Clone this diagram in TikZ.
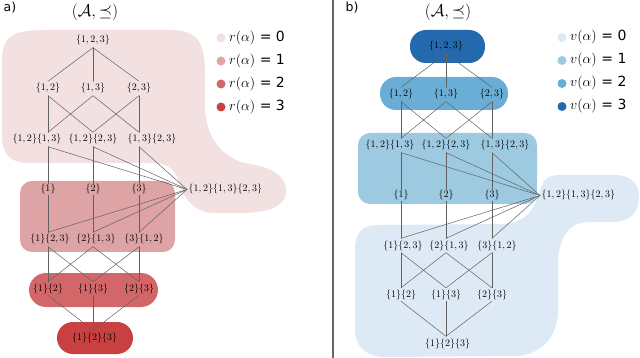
\RequirePackage{fix-cm}
\documentclass[tikz,border=0pt]{standalone}
\usepackage{fontspec}
\setsansfont{DejaVu Sans}
\usetikzlibrary{calc}
\definecolor{rzero}{HTML}{F3E1E1}
\definecolor{rone}{HTML}{DEA4A5}
\definecolor{rtwo}{HTML}{D36668}
\definecolor{rthree}{HTML}{C8403F}
\definecolor{vzero}{HTML}{DDEAF6}
\definecolor{vone}{HTML}{9DCAE1}
\definecolor{vtwo}{HTML}{6AADD5}
\definecolor{vthree}{HTML}{2468AE}
\tikzstyle{every path}=[line cap=round,line join=round]
\tikzstyle{vtx}=[inner sep=0pt,minimum width=0pt,minimum height=14pt]
\tikzstyle{edge}=[draw=black!62,line width=0.5pt]
\tikzstyle{legtext}=[anchor=west,inner sep=0pt,font=\fontsize{14}{16}\selectfont]
\tikzstyle{title}=[font=\fontsize{17}{20}\selectfont]
\tikzstyle{tag}=[font=\sffamily\fontsize{12.5}{14}\selectfont]
\newcommand{\lattice}[2]{
	\begin{scope}[shift={#2}]
		\node[vtx,label={center:$\{1,2,3\}$}] (#1-123) at (0,0) {};
		\node[vtx,label={center:$\{1,2\}$}] (#1-12) at (-45,48) {};
		\node[vtx,label={center:$\{1,3\}$}] (#1-13) at (0,48) {};
		\node[vtx,label={center:$\{2,3\}$}] (#1-23) at (46,48) {};
		\node[vtx,label={[xshift=-11pt]center:$\{1,2\}\{1,3\}$}] (#1-a) at (-45,99) {};
		\node[vtx,label={center:$\{1,2\}\{2,3\}$}] (#1-b) at (0,99) {};
		\node[vtx,label={[xshift=13pt]center:$\{1,3\}\{2,3\}$}] (#1-c) at (46,99) {};
		\node[vtx,minimum height=11pt,label={center:$\{1\}$}] (#1-s1) at (-45,149) {};
		\node[vtx,minimum height=11pt,label={center:$\{2\}$}] (#1-s2) at (0,149) {};
		\node[vtx,minimum height=11pt,label={center:$\{3\}$}] (#1-s3) at (46,149) {};
		\node[anchor=west,inner sep=1.5pt] (#1-hub) at (94,149) {$\{1,2\}\{1,3\}\{2,3\}$};
		\node[vtx,label={[xshift=2pt]center:$\{1\}\{2,3\}$}] (#1-p1) at (-45,199) {};
		\node[vtx,label={[xshift=3pt]center:$\{2\}\{1,3\}$}] (#1-p2) at (0,199) {};
		\node[vtx,label={[xshift=5pt]center:$\{3\}\{1,2\}$}] (#1-p3) at (46,199) {};
		\node[vtx,minimum height=13pt,label={center:$\{1\}\{2\}$}] (#1-q12) at (-45,248) {};
		\node[vtx,minimum height=13pt,label={center:$\{1\}\{3\}$}] (#1-q13) at (0,248) {};
		\node[vtx,minimum height=13pt,label={center:$\{2\}\{3\}$}] (#1-q23) at (46,248) {};
		\node[vtx,label={[xshift=1.5pt]center:$\{1\}\{2\}\{3\}$}] (#1-bot) at (0,297) {};
		\foreach \u/\v in {123/12,123/13,123/23,12/a,12/b,13/a,13/c,23/b,23/c,a/s1,b/s2,c/s3,
				s1/p1,s2/p2,s3/p3,p1/q12,p1/q13,p2/q12,p2/q23,p3/q13,p3/q23,q12/bot,q13/bot,q23/bot}
			\draw[edge] (#1-\u.south) -- (#1-\v.north);
		\foreach \u in {a,b,c}
			\draw[edge] (#1-\u.south) -- (#1-hub.west);
		\foreach \v in {p1,p2,p3}
			\draw[edge] (#1-hub.west) -- (#1-\v.north);
	\end{scope}
}

\begin{document}
\begin{tikzpicture}[x=1pt,y=-1pt]
	\useasboundingbox (0,0) rectangle (640,358);
	
	% panel a: rank levels
	\fill[rzero] (2,60) .. controls (2,35) and (15,30) .. (45,30) -- (170,30)
		.. controls (200,30) and (205,45) .. (205,75) -- (205,105)
		.. controls (205,140) and (225,160) .. (250,164)
		.. controls (275,168) and (287,178) .. (286,192)
		.. controls (285,206) and (270,213) .. (240,213) -- (215,213)
		.. controls (195,213) and (185,200) .. (180,185)
		.. controls (175,168) and (168,163) .. (150,163) -- (30,163)
		.. controls (10,163) and (2,155) .. (2,135) -- cycle;
	\fill[rone,rounded corners=12pt] (20,181) rectangle (175,252);
	\fill[rtwo,rounded corners=17pt] (29,273) rectangle (158,307);
	\fill[rthree,rounded corners=16pt] (57,322) rectangle (133,354);
	
	% panel b: value levels
	\fill[vzero] (355,250) .. controls (355,232) and (362,225) .. (380,225) -- (505,224)
		.. controls (525,222) and (535,210) .. (540,190)
		.. controls (543,180) and (548,175) .. (560,175) -- (615,175)
		.. controls (632,175) and (639,185) .. (639,197)
		.. controls (639,212) and (630,222) .. (612,222) -- (590,222)
		.. controls (570,222) and (560,235) .. (558,260) -- (558,300)
		.. controls (560,320) and (555,350) .. (520,356) -- (385,357)
		.. controls (365,357) and (355,345) .. (355,330) -- cycle;
	\fill[vone,rounded corners=12pt] (358,133) rectangle (537,204);
	\fill[vtwo,rounded corners=16pt] (380,77) rectangle (508,110);
	\fill[vthree,rounded corners=16pt] (410,30) rectangle (485,63);
	
	\draw[black!60,line width=1.2pt] (333,0) -- (333,358);
	
	\lattice{L}{(93,40.5)}
	\lattice{R}{(446,46.5)}
	
	\node[tag] (taga) at (10,8) {a)};
	\node[tag] (tagb) at (352,8) {b)};
	\node[title] (titlea) at (95,12) {$(\mathcal{A},\preceq)$};
	\node[title] (titleb) at (448,12) {$(\mathcal{A},\preceq)$};
	
	% legends
	\foreach \i/\c in {0/rzero,1/rone,2/rtwo,3/rthree} {
		\fill[\c] (221,38+23*\i) circle (4.5);
		\node[legtext] (lega\i) at (229,38+23*\i) {$r(\alpha)$ \textsf{= \i}};
	}
	\foreach \i/\c in {0/vzero,1/vone,2/vtwo,3/vthree} {
		\fill[\c] (562,37.5+23*\i) circle (4.5);
		\node[legtext] (legb\i) at (570,37.5+23*\i) {$v(\alpha)$ \textsf{= \i}};
	}
\end{tikzpicture}
\end{document}
